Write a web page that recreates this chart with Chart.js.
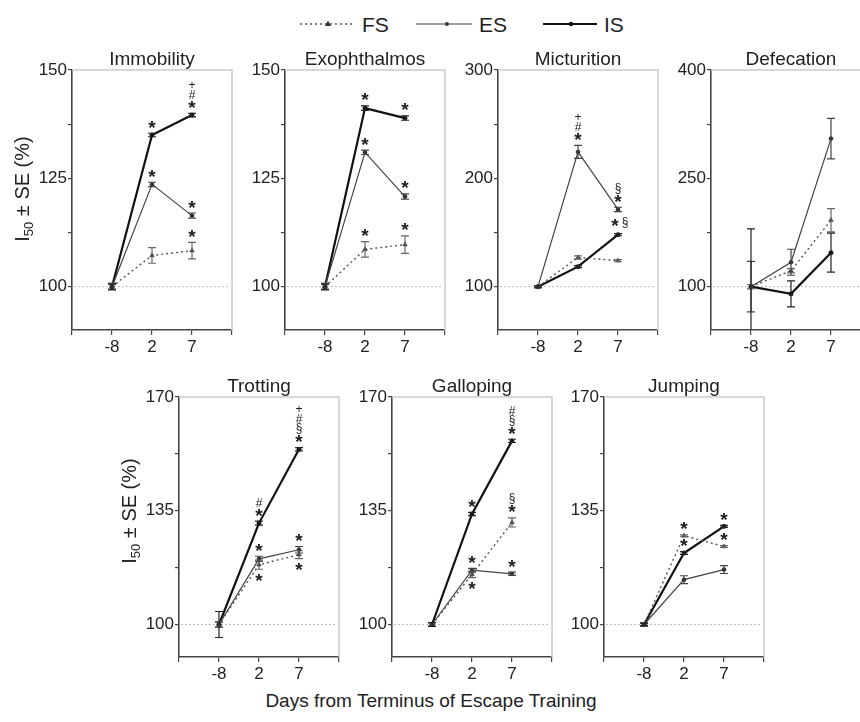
<!DOCTYPE html>
<html>
<head>
<meta charset="utf-8">
<script src="https://cdn.jsdelivr.net/npm/chart.js@4.4.1/dist/chart.umd.min.js"></script>
<style>
  html, body { margin: 0; padding: 0; width: 860px; height: 722px; overflow: hidden; background: #fff; }
  canvas { position: absolute; }
  svg { position: absolute; left: 0; top: 0; }
  svg text { font-family: "Liberation Sans", Arial, sans-serif; fill: #222; }
</style>
</head>
<body>
<svg width="860" height="722" id="decor">
  <line x1="300" y1="24" x2="352" y2="24" stroke="#555" stroke-width="1.4" stroke-dasharray="2,3"/>
  <polygon points="328,20.5 331,26 325,26" fill="#333"/>
  <text x="362" y="32" font-size="21">FS</text>
  <line x1="416" y1="24" x2="472" y2="24" stroke="#444" stroke-width="1.2"/>
  <circle cx="447" cy="24" r="2" fill="#333"/>
  <text x="479" y="32" font-size="21">ES</text>
  <line x1="543" y1="24" x2="597" y2="24" stroke="#111" stroke-width="2.2"/>
  <circle cx="571" cy="24" r="2.2" fill="#111"/>
  <text x="604" y="32" font-size="21">IS</text>
  <text x="431" y="707" font-size="19" text-anchor="middle">Days from Terminus of Escape Training</text>
</svg>
<script>
// ---------------- DATA ----------------
const days = ['-8', '2', '7'];
const seriesNames = ['FS', 'ES', 'IS'];
const panelTitles = ['Immobility', 'Exophthalmos', 'Micturition', 'Defecation', 'Trotting', 'Galloping', 'Jumping'];
const yTickLabels = [[100, 125, 150], [100, 125, 150], [100, 200, 300], [100, 250, 400], [100, 135, 170], [100, 135, 170], [100, 135, 170]];
const yAxisMin = [90, 90, 60, 40, 90, 90, 90];
const baseline = 100;

// rows: FS, ES, IS ; columns: days -8, 2, 7
const immobilityMean = [[100, 107.2, 108.3], [100, 123.6, 116.4], [100, 135.0, 139.6]];
const immobilitySE   = [[0.8, 1.8, 1.9], [0.6, 0.5, 0.6], [0.6, 0.4, 0.4]];
const immobilitySig  = [['', '', '*'], ['', '*', '*'], ['', '*', '*#+']];

const exophthalmosMean = [[100, 108.6, 109.7], [100, 131.0, 120.8], [100, 141.2, 138.9]];
const exophthalmosSE   = [[0.8, 1.8, 2.0], [0.6, 0.5, 0.6], [0.6, 0.5, 0.5]];
const exophthalmosSig  = [['', '*', '*'], ['', '*', '*'], ['', '*', '*']];

const micturitionMean = [[100, 127, 124], [100, 224.4, 171.3], [100, 118.5, 148]];
const micturitionSE   = [[1, 1.5, 1], [1, 6, 2], [1, 1, 1]];
const micturitionSig  = [['', '', ''], ['', '*#+', '*§'], ['', '', '*§']];

const defecationMean = [[100, 122, 192], [100, 133.8, 305], [100, 90, 147]];
const defecationSE   = [[3, 3, 16], [35, 18, 28], [80, 18, 27]];
const defecationSig  = [['', '', ''], ['', '', ''], ['', '', '']];

const trottingMean = [[100, 118.4, 121.5], [100, 120.2, 123.0], [100, 131.2, 153.9]];
const trottingSE   = [[0.8, 1.4, 1.2], [0.8, 0.8, 1.0], [4, 0.6, 0.5]];
const trottingSig  = [['', '*', '*'], ['', '*', '*'], ['', '*#', '*§#+']];

const gallopingMean = [[100, 115.4, 131.4], [100, 116.7, 115.6], [100, 134.0, 156.5]];
const gallopingSE   = [[0.6, 1.0, 1.4], [0.6, 0.6, 0.5], [0.6, 0.5, 0.5]];
const gallopingSig  = [['', '*', '*§'], ['', '*', '*'], ['', '*', '*§#']];

const jumpingMean = [[100, 127.3, 124.0], [100, 113.8, 116.9], [100, 122.0, 130.2]];
const jumpingSE   = [[0.4, 0.3, 0.3], [0.4, 1.2, 1.2], [0.4, 0.4, 0.3]];
const jumpingSig  = [['', '*', '*'], ['', '', ''], ['', '*', '*']];

// where the significance marks sit (default: stacked above)
const micturitionSigPlace = [null, null, ['', '', 'row']];
const trottingSigPlace    = [['', 'below', 'below'], null, null];
const gallopingSigPlace   = [['', 'below', ''], null, null];

const panelMeans = [immobilityMean, exophthalmosMean, micturitionMean, defecationMean, trottingMean, gallopingMean, jumpingMean];
const panelSE    = [immobilitySE, exophthalmosSE, micturitionSE, defecationSE, trottingSE, gallopingSE, jumpingSE];
const panelSig   = [immobilitySig, exophthalmosSig, micturitionSig, defecationSig, trottingSig, gallopingSig, jumpingSig];
const panelSigPlace = [null, null, micturitionSigPlace, null, trottingSigPlace, gallopingSigPlace, null];

// ---------------- LAYOUT / STYLE ----------------
const FONT = '"Liberation Sans", Arial, sans-serif';
const Y_W = 72, PLOT_W = 160, PAD_R = 10, X_H = 40, PLOT_H = 260;
const axisX = [72, 285, 498, 711, 179, 392, 604];
const rowTop = [0, 0, 0, 0, 357, 357, 357];
const rowPad = [70, 70, 70, 70, 40, 40, 40];
const showYTitle = [true, false, false, false, true, false, false];
const yTitleShift = [-11, 0, 0, 0, -16, 0, 0];

const seriesStyle = [
  { borderColor: '#555', borderWidth: 1.4, borderDash: [2, 3], pointStyle: 'triangle', pointRadius: 2.6, pointBackgroundColor: '#333', pointBorderColor: '#333', err: '#666' },
  { borderColor: '#444', borderWidth: 1.2, borderDash: [], pointStyle: 'circle', pointRadius: 2.0, pointBackgroundColor: '#222', pointBorderColor: '#222', err: '#444' },
  { borderColor: '#111', borderWidth: 2.2, borderDash: [], pointStyle: 'circle', pointRadius: 2.2, pointBackgroundColor: '#111', pointBorderColor: '#111', err: '#222' }
];

const decorPlugin = {
  id: 'decor',
  beforeDatasetsDraw(chart, args, opts) {
    const { ctx, chartArea: a, scales } = chart;
    const yb = scales.y.getPixelForValue(baseline);
    ctx.save();
    ctx.strokeStyle = '#bbb';
    ctx.lineWidth = 1;
    ctx.setLineDash([2, 2]);
    ctx.beginPath();
    ctx.moveTo(a.left + 2, yb);
    ctx.lineTo(a.right - 2, yb);
    ctx.stroke();
    ctx.restore();
  },
  afterDatasetsDraw(chart, args, opts) {
    const { ctx, chartArea: a, scales } = chart;
    const x = scales.x, y = scales.y;
    // error bars
    ctx.save();
    ctx.beginPath();
    ctx.rect(a.left, a.top, a.right - a.left, a.bottom - a.top);
    ctx.clip();
    chart.data.datasets.forEach(ds => {
      ctx.strokeStyle = ds.errColor;
      ctx.lineWidth = 1.2;
      ctx.setLineDash([]);
      ds.data.forEach((pt, i) => {
        const e = ds.se[i];
        const px = x.getPixelForValue(pt.x);
        const pt1 = y.getPixelForValue(pt.y + e), pt2 = y.getPixelForValue(pt.y - e);
        ctx.beginPath();
        ctx.moveTo(px, pt1); ctx.lineTo(px, pt2);
        ctx.moveTo(px - 4, pt1); ctx.lineTo(px + 4, pt1);
        ctx.moveTo(px - 4, pt2); ctx.lineTo(px + 4, pt2);
        ctx.stroke();
      });
    });
    ctx.restore();
    // significance marks
    ctx.save();
    ctx.fillStyle = '#222';
    ctx.textAlign = 'center';
    ctx.textBaseline = 'alphabetic';
    const fontFor = c => (c === '*' ? 'bold 19px ' + FONT : '12px ' + FONT);
    const drawCentered = (c, cx, cy) => {
      ctx.font = fontFor(c);
      const m = ctx.measureText(c);
      const asc = m.actualBoundingBoxAscent, desc = m.actualBoundingBoxDescent;
      ctx.fillText(c, cx, cy + (asc - desc) / 2);
    };
    chart.data.datasets.forEach(ds => {
      ds.sig.forEach((s, i) => {
        if (!s) return;
        const place = ds.sigPlace ? ds.sigPlace[i] : '';
        const pt = ds.data[i];
        const px = x.getPixelForValue(pt.x);
        const top = y.getPixelForValue(pt.y + ds.se[i]);
        const bot = y.getPixelForValue(pt.y - ds.se[i]);
        const chars = Array.from(s);
        if (place === 'row') {
          chars.forEach((c, k) => drawCentered(c, px - 3 + k * 10, top - 11));
        } else if (place === 'below') {
          chars.forEach((c, k) => drawCentered(c, px, bot + 8 + k * 10));
        } else {
          chars.forEach((c, k) => drawCentered(c, px, top - 9 - k * 10));
        }
      });
    });
    ctx.restore();
  },
  afterDraw(chart, args, opts) {
    const { ctx, chartArea: a } = chart;
    ctx.save();
    // light top/right frame
    ctx.strokeStyle = '#ccc';
    ctx.lineWidth = 1.5;
    ctx.beginPath();
    ctx.moveTo(a.left, a.top);
    ctx.lineTo(a.right, a.top);
    ctx.lineTo(a.right, a.bottom);
    ctx.stroke();
    // panel title
    ctx.fillStyle = '#222';
    ctx.font = '19px ' + FONT;
    ctx.textAlign = 'center';
    ctx.textBaseline = 'alphabetic';
    ctx.fillText(opts.title, (a.left + a.right) / 2, a.top - 5);
    // y-axis title with subscript
    if (opts.yTitle) {
      ctx.translate(a.left - 50, (a.top + a.bottom) / 2 + opts.yShift);
      ctx.rotate(-Math.PI / 2);
      ctx.textAlign = 'left';
      const big = '20px ' + FONT, small = '13px ' + FONT;
      ctx.font = big; const w1 = ctx.measureText('I').width; const w3 = ctx.measureText(' ± SE (%)').width;
      ctx.font = small; const w2 = ctx.measureText('50').width;
      const x0 = -(w1 + w2 + w3) / 2;
      ctx.font = big; ctx.fillText('I', x0, 7);
      ctx.font = small; ctx.fillText('50', x0 + w1, 11);
      ctx.font = big; ctx.fillText(' ± SE (%)', x0 + w1 + w2, 7);
    }
    ctx.restore();
  }
};

function makePanel(p) {
  const W = Y_W + PLOT_W + PAD_R;
  const H = rowPad[p] + PLOT_H + X_H;
  const cv = document.createElement('canvas');
  cv.width = W; cv.height = H;
  cv.style.width = W + 'px'; cv.style.height = H + 'px';
  cv.style.left = (axisX[p] - Y_W) + 'px';
  cv.style.top = rowTop[p] + 'px';
  document.body.appendChild(cv);

  const major = yTickLabels[p];
  const step = major[1] - major[0];
  const tickVals = [];
  major.forEach((v, k) => { tickVals.push(v); if (k < major.length - 1) tickVals.push(v + step / 2); });

  const datasets = seriesNames.map((name, s) => {
    const st = seriesStyle[s];
    return {
      label: name,
      data: days.map((d, i) => ({ x: i, y: panelMeans[p][s][i] })),
      se: panelSE[p][s],
      sig: panelSig[p][s],
      sigPlace: panelSigPlace[p] ? panelSigPlace[p][s] : null,
      errColor: st.err,
      borderColor: st.borderColor,
      borderWidth: st.borderWidth,
      borderDash: st.borderDash,
      pointStyle: st.pointStyle,
      pointRadius: st.pointRadius,
      pointBackgroundColor: st.pointBackgroundColor,
      pointBorderColor: st.pointBorderColor,
      pointBorderWidth: 0.5,
      fill: false,
      tension: 0,
      clip: false
    };
  });

  new Chart(cv, {
    type: 'line',
    data: { datasets },
    plugins: [decorPlugin],
    options: {
      responsive: false,
      animation: false,
      devicePixelRatio: 1,
      layout: { padding: { top: rowPad[p], right: PAD_R, left: 0, bottom: 0 } },
      plugins: {
        legend: { display: false },
        tooltip: { enabled: false },
        decor: { title: panelTitles[p], yTitle: showYTitle[p], yShift: yTitleShift[p] }
      },
      scales: {
        x: {
          type: 'linear', min: -1, max: 3,
          afterBuildTicks: s => { s.ticks = [-1, 0, 1, 2, 3].map(v => ({ value: v })); },
          afterFit: s => { s.height = X_H; },
          ticks: {
            callback: v => (days[v] !== undefined ? days[v] : ''),
            font: { size: 17, family: FONT }, color: '#222', padding: 2,
            maxRotation: 0, autoSkip: false
          },
          grid: { drawOnChartArea: false, drawTicks: true, tickLength: 5, color: '#444', lineWidth: 1.2 },
          border: { display: true, color: '#444', width: 1.6 }
        },
        y: {
          type: 'linear', min: yAxisMin[p], max: major[major.length - 1],
          afterBuildTicks: s => { s.ticks = tickVals.map(v => ({ value: v })); },
          afterFit: s => { s.width = Y_W; },
          ticks: {
            callback: v => (major.includes(v) ? String(v) : ''),
            font: { size: 17, family: FONT }, color: '#222', padding: 1,
            autoSkip: false
          },
          grid: { drawOnChartArea: false, drawTicks: true, tickLength: 4, color: '#444', lineWidth: 1.2 },
          border: { display: true, color: '#444', width: 1.6 }
        }
      }
    }
  });
}

for (let p = 0; p < panelTitles.length; p++) makePanel(p);
</script>
</body>
</html>
